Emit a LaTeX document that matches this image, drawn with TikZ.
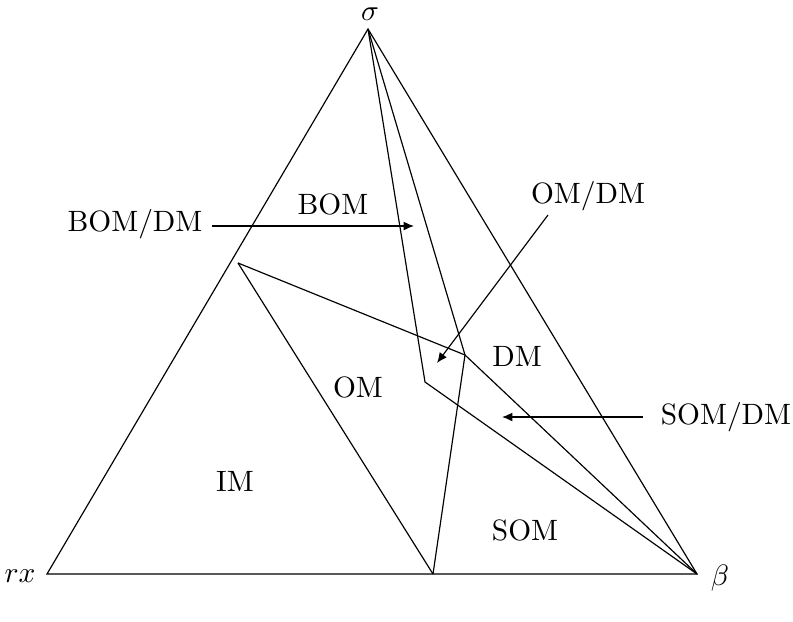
\documentclass[tikz,border=0pt]{standalone}
\usepackage{amsmath, amssymb}
\usepackage{tikz}
\usetikzlibrary{positioning, arrows.meta, calc}

\begin{document}
\begin{tikzpicture}[
  x=0.34pt, y=-0.34pt,
  region/.style={font=\normalsize},
  tag/.style={font=\normalsize},
  arrow/.style={-{Latex[length=3.5pt, width=3pt]}},
  edge/.style={line join=miter}
]
\useasboundingbox (0,0) rectangle (793,621);

% Vertices
\coordinate (rx) at (47,574);
\coordinate (beta) at (697,574);
\coordinate (sigma) at (368,29);
\coordinate (left) at (238,263);
\coordinate (foot) at (433,574);
\coordinate (kink) at (465,355);
\coordinate (inner) at (425,382);

% Triangle and dividing lines
\draw[edge] (rx) -- (beta) -- (sigma) -- cycle;
\draw[edge] (left) -- (foot);
\draw[edge] (left) -- (kink) -- (beta);
\draw[edge] (sigma) -- (kink) -- (foot);
\draw[edge] (sigma) -- (inner) -- (beta);

% Vertex labels
\node (lsigma) at (370,14) {$\sigma$};
\node (lrx) at (20,576) {$rx$};
\node (lbeta) at (720,578) {$\beta$};

% Regions
\node[region] (bom) at (333,204) {BOM};
\node[region] (om) at (358,387) {OM};
\node[region] (dm) at (517,356) {DM};
\node[region] (im) at (235,481) {IM};
\node[region] (som) at (525,530) {SOM};

% Boundary tags
\node[tag] (bomdm) at (135,224) {BOM/DM};
\node[tag] (omdm) at (588,196) {OM/DM};
\node[tag] (somdm) at (726,417) {SOM/DM};

\coordinate (bomdmtail) at (212,226);
\coordinate (bomdmtip) at (414,226);
\coordinate (omdmtail) at (548,215);
\coordinate (omdmtip) at (437,363);
\coordinate (somdmtail) at (643,417);
\coordinate (somdmtip) at (502,417);

\draw[arrow] (bomdmtail) -- (bomdmtip);
\draw[arrow] (omdmtail) -- (omdmtip);
\draw[arrow] (somdmtail) -- (somdmtip);

\end{tikzpicture}
\end{document}
